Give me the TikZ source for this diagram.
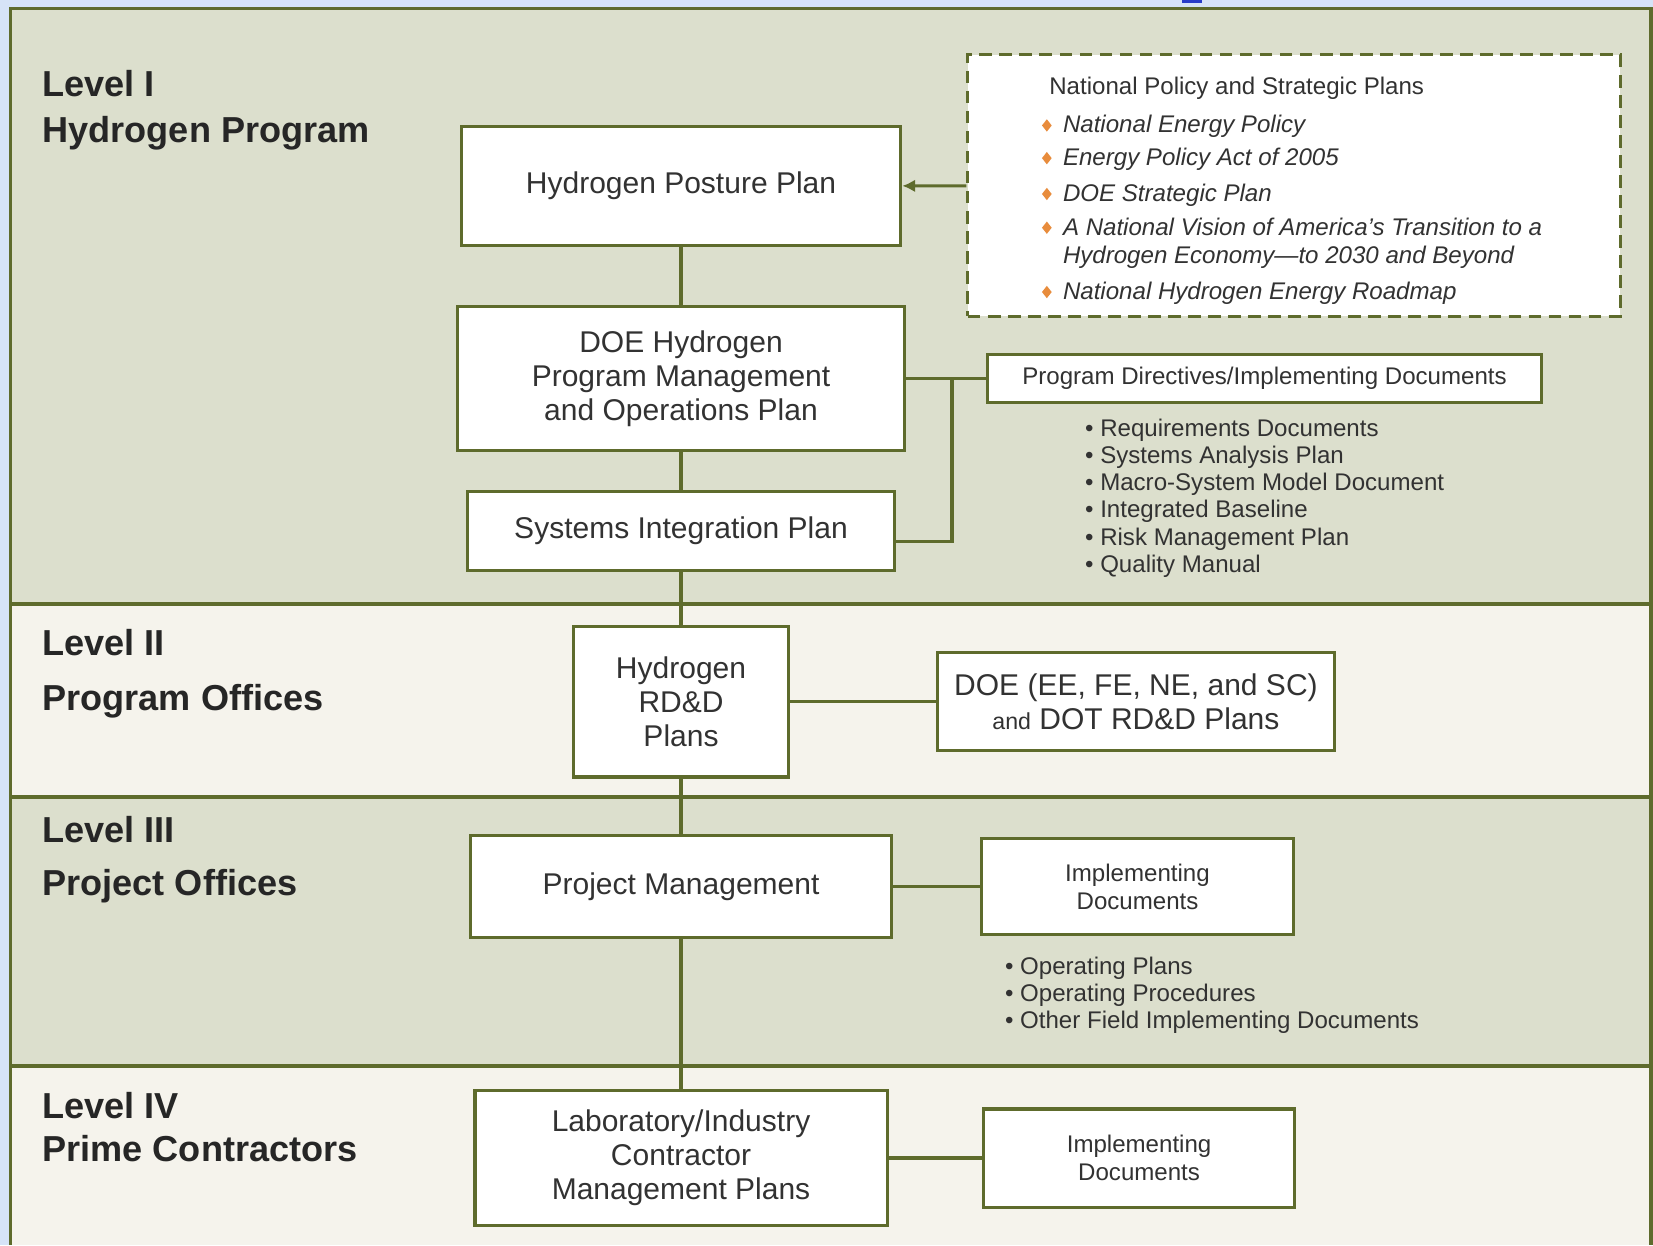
\documentclass[tikz,border=0pt]{standalone}
\usepackage{fontspec}
\setmainfont{Liberation Sans}
\usetikzlibrary{shapes.geometric,arrows.meta}

\definecolor{frame}{RGB}{94,107,44}
\definecolor{bandgreen}{RGB}{220,223,205}
\definecolor{bandlight}{RGB}{245,243,236}
\definecolor{page}{RGB}{214,227,247}
\definecolor{ink}{RGB}{50,50,50}
\definecolor{accent}{RGB}{232,140,60}
\definecolor{linkblue}{RGB}{40,60,200}

\newcommand{\bigtext}{\fontsize{16.2}{18.4}\selectfont}
\newcommand{\smalltext}{\fontsize{13}{15.3}\selectfont}
\newcommand{\tiertext}{\fontsize{19.5}{22}\selectfont\bfseries}

\tikzset{
  plan/.style={draw=frame, line width=1.7pt, fill=white, align=center, text=ink, font=\bigtext},
  doc/.style={plan, font=\smalltext},
  tier/.style={anchor=base west, inner sep=0pt, text=black!85, font=\tiertext},
  entry/.style={anchor=base west, inner sep=0pt, text=ink, font=\smalltext},
  policy/.style={entry, font=\smalltext\itshape},
  dia/.style={diamond, fill=accent, inner sep=0pt, minimum width=0.19cm, minimum height=0.24cm},
  link/.style={draw=frame, line width=1.7pt},
}

\begin{document}
\begin{tikzpicture}[x=0.02cm, y=-0.02cm]
  \useasboundingbox (0,0) rectangle (1568,1181);
  \fill[page] (0,0) rectangle (1568,1181);
  \fill[linkblue] (1121,0) rectangle (1140,3);

  \fill[bandgreen] (10,8) rectangle (1566,573);
  \fill[bandlight] (10,573) rectangle (1566,756);
  \fill[bandgreen] (10,756) rectangle (1566,1011);
  \fill[bandlight] (10,1011) rectangle (1566,1181);
  \draw[frame, line width=2pt] (10,1181) -- (10,8) -- (1566,8) -- (1566,1181);
  \draw[frame, line width=2.2pt] (10,573) -- (1566,573);
  \draw[frame, line width=2.2pt] (10,756) -- (1566,756);
  \draw[frame, line width=2.2pt] (10,1011) -- (1566,1011);

  \node[tier] (lvone) at (40,92) {Level I};
  \node[tier] (hprog) at (40,135) {Hydrogen Program};
  \node[tier] (lvtwo) at (40,622) {Level II};
  \node[tier] (poff) at (40,674) {Program Offices};
  \node[tier] (lvthree) at (40,799) {Level III};
  \node[tier] (proff) at (40,849) {Project Offices};
  \node[tier] (lvfour) at (40,1061) {Level IV};
  \node[tier] (prime) at (40,1102) {Prime Contractors};

  \node[plan, minimum width=8.34cm, minimum height=2.26cm] (posture) at (646,176.5) {Hydrogen Posture Plan};
  \node[plan, minimum width=8.48cm, minimum height=2.74cm] (pmop) at (646,359) {DOE Hydrogen\\Program Management\\and Operations Plan};
  \node[plan, minimum width=8.10cm, minimum height=1.50cm] (sip) at (646,503.5) {Systems Integration Plan};
  \node[plan, minimum width=4.08cm, minimum height=2.86cm] (rdd) at (646,665.5) {Hydrogen\\RD\&D\\Plans};
  \node[plan, minimum width=7.54cm, minimum height=1.86cm] (doeplans) at (1077.5,665.5) {DOE (EE, FE, NE, and SC)\\{\fontsize{12.5}{18.4}\selectfont and} DOT RD\&D Plans};
  \node[plan, minimum width=7.98cm, minimum height=1.94cm] (pm) at (646,841) {Project Management};
  \node[doc, minimum width=5.92cm, minimum height=1.82cm] (implthree) at (1079,841) {Implementing\\Documents};
  \node[plan, minimum width=7.82cm, minimum height=2.56cm] (lab) at (646,1098.5) {Laboratory/Industry\\Contractor\\Management Plans};
  \node[doc, minimum width=5.90cm, minimum height=1.86cm] (implfour) at (1080.5,1098.5) {Implementing\\Documents};
  \node[doc, minimum width=10.50cm, minimum height=0.90cm] (dirs) at (1199.5,359) {Program Directives/Implementing Documents};

  \node[draw=frame, line width=1.7pt, dash pattern=on 0.24cm off 0.14cm, fill=white,
        minimum width=12.38cm, minimum height=4.96cm] (natl) at (1227.5,176) {};
  \node[entry] (npsp) at (995,90) {National Policy and Strategic Plans};
  \node[dia] (dnep) at (993,119) {};
  \node[policy] (nep) at (1008,126) {National Energy Policy};
  \node[dia] (depa) at (993,150) {};
  \node[policy] (epa) at (1008,157) {Energy Policy Act of 2005};
  \node[dia] (dsp) at (993,184) {};
  \node[policy] (dsplan) at (1008,191) {DOE Strategic Plan};
  \node[dia] (dvis) at (993,216) {};
  \node[policy] (vision) at (1008,223) {A National Vision of America's Transition to a};
  \node[policy] (visiontwo) at (1008,250) {Hydrogen Economy---to 2030 and Beyond};
  \node[dia] (drm) at (993,277) {};
  \node[policy] (roadmap) at (1008,284) {National Hydrogen Energy Roadmap};

  \node[entry] (reqd) at (1029,414) {\textbullet\ Requirements Documents};
  \node[entry] (sap) at (1029,440) {\textbullet\ Systems Analysis Plan};
  \node[entry] (msm) at (1029,465) {\textbullet\ Macro-System Model Document};
  \node[entry] (ibase) at (1029,491) {\textbullet\ Integrated Baseline};
  \node[entry] (rmp) at (1029,517) {\textbullet\ Risk Management Plan};
  \node[entry] (qman) at (1029,543) {\textbullet\ Quality Manual};

  \node[entry] (opplans) at (953,924) {\textbullet\ Operating Plans};
  \node[entry] (opproc) at (953,950) {\textbullet\ Operating Procedures};
  \node[entry] (ofid) at (953,976) {\textbullet\ Other Field Implementing Documents};

  \draw[link] (posture) -- (pmop);
  \draw[link] (pmop) -- (sip);
  \draw[link] (sip) -- (rdd);
  \draw[link] (rdd) -- (pm);
  \draw[link] (pm) -- (lab);
  \draw[link] (rdd) -- (doeplans);
  \draw[link] (pm) -- (implthree);
  \draw[link] (lab) -- (implfour);
  \draw[link] (pmop) -- (dirs);
  \coordinate (fork) at (903,359);
  \draw[link] ([yshift=-0.21cm]sip.east) -| (fork);
  \draw[link, -{Latex[length=0.24cm, width=0.24cm]}] (natl) -- (posture);
\end{tikzpicture}
\end{document}
